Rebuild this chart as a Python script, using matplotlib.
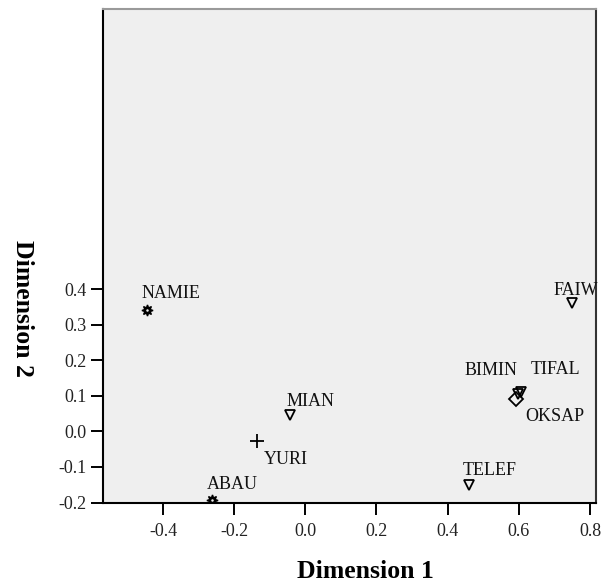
import numpy as np
import matplotlib.pyplot as plt

# Coordenadas de los objetos en las dos dimensiones
nombres = ['NAMIE', 'MIAN', 'YURI', 'ABAU', 'FAIW', 'BIMIN', 'TIFAL', 'OKSAP', 'TELEF']
dim1 = [-0.444, -0.044, -0.136, -0.262, 0.749, 0.598, 0.606, 0.592, 0.461]
dim2 = [0.340, 0.046, -0.027, -0.194, 0.361, 0.106, 0.111, 0.092, -0.152]
grupo = ['estrella', 'triangulo', 'cruz', 'estrella', 'triangulo',
         'triangulo', 'triangulo', 'rombo', 'triangulo']

# Desplazamiento de cada etiqueta respecto a su punto (pixeles)
desplaz = {
    'NAMIE': (-6, 12), 'MIAN': (-3, 9), 'YURI': (7, -23), 'ABAU': (-5, 11),
    'FAIW': (-18, 8), 'BIMIN': (-54, 19), 'TIFAL': (10, 18),
    'OKSAP': (9, -22), 'TELEF': (-7, 10),
}

estilos = {
    'estrella': dict(marker=(8, 1, 0), ms=8, mfc='black', mec='black', mew=1.0),
    'triangulo': dict(marker='v', ms=7.5, mfc='none', mec='black', mew=1.3),
    'cruz': dict(marker='+', ms=10, mec='black', mew=1.3),
    'rombo': dict(marker='D', ms=7.5, mfc='none', mec='black', mew=1.3),
}

plt.rcParams['font.family'] = ['Liberation Serif', 'DejaVu Serif']

fig = plt.figure(figsize=(6.03, 5.83), dpi=100)
ax = fig.add_axes([0.170, 0.138, 0.819, 0.846])
ax.set_facecolor('#efefef')

for x, y, g in zip(dim1, dim2, grupo):
    ax.plot(x, y, linestyle='none', **estilos[g])
    if g == 'estrella':
        ax.plot(x, y, 'o', ms=1.8, mfc='#efefef', mec='none')

for n, x, y in zip(nombres, dim1, dim2):
    dx, dy = desplaz[n]
    ax.annotate(n, (x, y), xytext=(dx, dy), textcoords='offset pixels',
                ha='left', va='baseline', fontsize=13, color='#111111')

ax.set_xlim(-0.570, 0.818)
ax.set_ylim(-0.198, 1.186)
ax.set_xticks(np.arange(-0.4, 0.81, 0.2))
ax.set_yticks(np.arange(-0.2, 0.41, 0.1))
ax.xaxis.set_major_formatter(plt.FormatStrFormatter('%.1f'))
ax.yaxis.set_major_formatter(plt.FormatStrFormatter('%.1f'))
ax.tick_params(length=8.5, width=1.4, labelsize=13, pad=3, labelcolor='#222222')
ax.tick_params(axis='x', pad=6)

ax.spines['left'].set_linewidth(1.5)
ax.spines['bottom'].set_linewidth(1.5)
ax.spines['top'].set_color('#9a9a9a')
ax.spines['top'].set_linewidth(1.5)
ax.spines['right'].set_color('#333333')
ax.spines['right'].set_linewidth(1.5)

fig.text(365 / 603, 1 - 571 / 583, 'Dimension 1', ha='center', va='center',
         fontsize=18.5, fontweight='bold')
fig.text(22 / 603, 1 - 308 / 583, 'Dimension 2', ha='center', va='center',
         rotation=-90, fontsize=18.5, fontweight='bold')

fig.savefig('out.png', dpi=100)
